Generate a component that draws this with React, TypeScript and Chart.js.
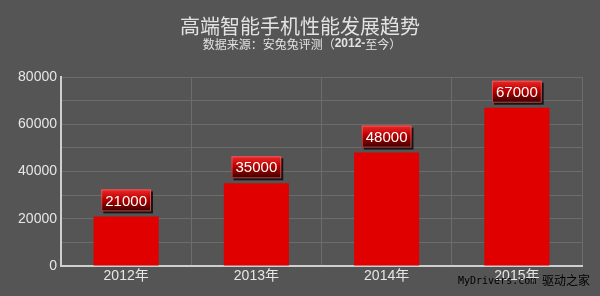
import React, { useEffect, useRef } from "react";
import { Chart, registerables } from "chart.js";

Chart.register(...registerables);

const categories = ["2012年", "2013年", "2014年", "2015年"];
const scores = [21000, 35000, 48000, 67000];
const yTicks = [0, 20000, 40000, 60000, 80000];
const titleText = "高端智能手机性能发展趋势";
const subtitleParts = ["数据来源：安兔兔评测（", "2012-", "至今）"];
const watermarkLatin = "MyDrivers.com";
const watermarkCjk = "驱动之家";

const BG = "#555555";

const decorPlugin = {
  id: "decor",
  beforeDraw(chart: any) {
    const { ctx, width, height } = chart;
    ctx.save();
    ctx.fillStyle = BG;
    ctx.fillRect(0, 0, width, height);
    ctx.restore();
  },
  afterDraw(chart: any) {
    const { ctx } = chart;
    ctx.save();
    // title
    ctx.fillStyle = "#e2e2e2";
    ctx.textAlign = "center";
    ctx.textBaseline = "middle";
    ctx.font = '20px "Noto Sans CJK SC", sans-serif';
    ctx.fillText(titleText, 300, 26);
    // subtitle with bold part
    const fonts = [
      '12px "Noto Sans CJK SC", sans-serif',
      'bold 12px "Liberation Sans", Arial, sans-serif',
      '12px "Noto Sans CJK SC", sans-serif',
    ];
    let total = 0;
    const widths = subtitleParts.map((p, i) => {
      ctx.font = fonts[i];
      const w = ctx.measureText(p).width;
      total += w;
      return w;
    });
    let x = 302 - total / 2;
    ctx.textAlign = "left";
    subtitleParts.forEach((p, i) => {
      ctx.font = fonts[i];
      ctx.fillText(p, x, 44);
      x += widths[i];
    });

    // value labels
    const meta = chart.getDatasetMeta(0);
    meta.data.forEach((bar: any, i: number) => {
      const text = String(scores[i]);
      ctx.font = '15px "Liberation Sans", Arial, sans-serif';
      const tw = ctx.measureText(text).width;
      const bw = tw + 8;
      const bh = 22;
      const bx = bar.x - bw / 2;
      const by = bar.y - 5 - bh;
      // shadow
      ctx.fillStyle = "rgba(0,0,0,0.75)";
      ctx.fillRect(bx + 2, by + 2, bw, bh);
      const g = ctx.createLinearGradient(0, by, 0, by + bh);
      g.addColorStop(0, "#ee2a2a");
      g.addColorStop(0.45, "#b80000");
      g.addColorStop(1, "#3a0000");
      ctx.fillStyle = g;
      ctx.fillRect(bx, by, bw, bh);
      ctx.strokeStyle = "rgba(255,120,120,0.6)";
      ctx.lineWidth = 1;
      ctx.strokeRect(bx + 0.5, by + 0.5, bw - 1, bh - 1);
      ctx.fillStyle = "#ffffff";
      ctx.textAlign = "center";
      ctx.textBaseline = "middle";
      ctx.fillText(text, bar.x, by + bh / 2 + 1);
    });

    // watermark
    ctx.fillStyle = "#000000";
    ctx.textAlign = "left";
    ctx.textBaseline = "middle";
    ctx.font = '10px "DejaVu Sans Mono", "Liberation Mono", monospace';
    ctx.fillText(watermarkLatin, 458, 281);
    ctx.font = '12px "Noto Sans CJK SC", sans-serif';
    ctx.fillText(watermarkCjk, 542, 280);
    ctx.restore();
  },
};

export default function App() {
  const ref = useRef<HTMLCanvasElement | null>(null);
  useEffect(() => {
    document.body.style.margin = "0";
    document.body.style.background = BG;
    const canvas = ref.current!;
    const chart = new Chart(canvas, {
      type: "bar",
      data: {
        labels: categories,
        datasets: [
          {
            data: scores,
            backgroundColor: "#e00000",
            borderWidth: 0,
            barPercentage: 0.5,
            categoryPercentage: 1,
          },
        ],
      },
      options: {
        responsive: false,
        animation: false,
        events: [],
        layout: { padding: { left: 0, right: 18, top: 77, bottom: 0 } },
        plugins: {
          legend: { display: false },
          title: { display: false },
          tooltip: { enabled: false },
        },
        scales: {
          x: {
            offset: true,
            grid: {
              offset: true,
              color: "#6c6c6c",
              lineWidth: 1,
              drawTicks: false,
            },
            border: { color: "#cfcfcf", width: 2 },
            ticks: {
              color: "#e6e6e6",
              font: { size: 14, family: '"Liberation Sans", "Noto Sans CJK SC", sans-serif' },
              padding: 2,
            },
            afterFit(scale: any) {
              scale.height = 30;
            },
          },
          y: {
            min: 0,
            max: 80000,
            grid: {
              color: "#6c6c6c",
              lineWidth: 1,
              drawTicks: false,
            },
            border: { color: "#cfcfcf", width: 2 },
            ticks: {
              stepSize: 10000,
              color: "#e6e6e6",
              padding: 4,
              font: { size: 14, family: '"Liberation Sans", Arial, sans-serif' },
              callback: (v: any) => (yTicks.includes(Number(v)) ? String(v) : ""),
            },
            afterFit(scale: any) {
              scale.width = 61;
            },
          },
        },
      },
      plugins: [decorPlugin],
    });
    return () => chart.destroy();
  }, []);
  return <canvas ref={ref} width={600} height={296} style={{ display: "block" }} />;
}
